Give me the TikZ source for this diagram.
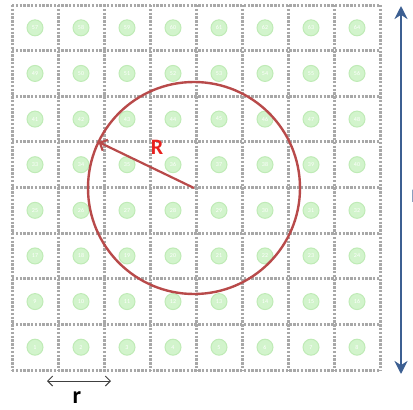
\documentclass[tikz,border=0pt]{standalone}
\usepackage{fontspec}
\setmainfont{Carlito}
\usetikzlibrary{arrows.meta,calc}
\definecolor{gridgray}{HTML}{A8A8A8}
\definecolor{cellgreen}{HTML}{D2F4CC}
\definecolor{cellring}{HTML}{BFEBB6}
\definecolor{ringred}{HTML}{B84A4A}
\definecolor{labred}{HTML}{E8201E}
\definecolor{axisblue}{HTML}{3C5F92}
\tikzset{
  gridline/.style={draw=gridgray, line width=3pt, dash pattern=on 2.4pt off 1.4pt},
  cell/.style={circle, fill=cellgreen, draw=cellring, line width=1pt, minimum size=16pt, inner sep=0pt,
    font=\fontsize{6}{6}\selectfont, text=white},
  bigcirc/.style={draw=ringred, line width=2.4pt},
  radarrow/.style={draw=ringred, line width=2.2pt, -{Straight Barb[length=6pt,width=12pt,line width=2.2pt]}},
  rarrow/.style={draw=black!75, line width=1pt, {Straight Barb[length=5pt,width=10pt]}-{Straight Barb[length=5pt,width=10pt]}},
  blueaxis/.style={draw=axisblue, line width=2.8pt, {Stealth[length=13pt,width=13pt]}-{Stealth[length=13pt,width=13pt]}},
}
\begin{document}
\begin{tikzpicture}[x=1pt,y=-1pt]
\useasboundingbox (0,0) rectangle (413,410);
% grid
\foreach \i in {0,...,8} {
  \draw[gridline] ({12+46*\i},5) -- ({12+46*\i},370);
  \draw[gridline] (12,{5+45.625*\i}) -- (380,{5+45.625*\i});
}
% cells
\foreach \r in {0,...,7} {
  \foreach \c in {0,...,7} {
    \pgfmathtruncatemacro{\n}{\r*8+\c+1}
    \node[cell] (c\n) at ({12+46*\c+23},{370-45.625*\r-22.8}) {\n};
  }
}
% circle of radius R
\coordinate (ctr) at (194,188);
\draw[bigcirc] (ctr) circle[radius=106];
\coordinate (rtip) at ($(ctr)+(-95.5,-46)$);
\draw[radarrow] (ctr) -- (rtip);
\node[font=\bfseries\fontsize{22}{22}\selectfont, text=labred] (Rlab) at (157,147) {R};
% r arrow
\coordinate (ra) at (47,381);
\coordinate (rb) at (111,381);
\draw[rarrow] (ra) -- (rb);
\node[font=\bfseries\fontsize{24}{24}\selectfont] (rlab) at (77,398) {r};
% blue axis
\coordinate (ba) at (401,6);
\coordinate (bb) at (401,374);
\draw[blueaxis] (ba) -- (bb);
\node[font=\bfseries\fontsize{19}{19}\selectfont, text=axisblue!60, anchor=west, inner sep=0pt] (Llab) at (411,196) {L};
\end{tikzpicture}
\end{document}
